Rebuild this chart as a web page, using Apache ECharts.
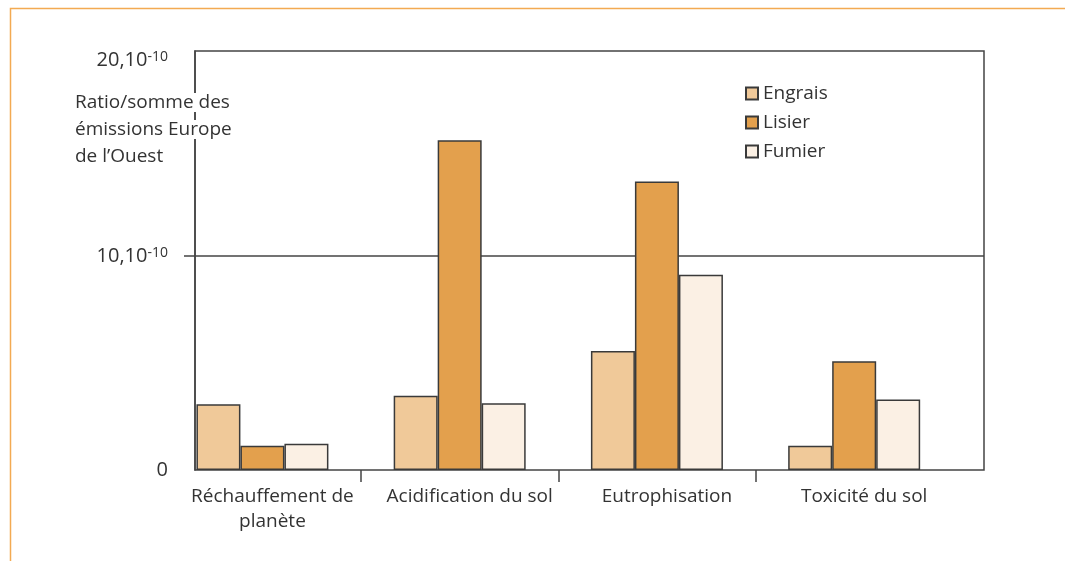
<!DOCTYPE html>
<html><head><meta charset="utf-8">
<script src="https://cdn.jsdelivr.net/npm/echarts@6/dist/echarts.min.js"></script>
<style>html,body{margin:0;padding:0;background:#fff}#c{width:1065px;height:561px}</style>
</head><body><div id="c"></div>
<script>
// ---- data ----
const categories = ['Réchauffement de\nplanète', 'Acidification du sol', 'Eutrophisation', 'Toxicité du sol'];
const seriesNames = ['Engrais', 'Lisier', 'Fumier'];
const engrais = [3.07, 3.47, 5.57, 1.14];
const lisier  = [1.14, 15.43, 13.50, 5.09];
const fumier  = [1.23, 3.12, 9.13, 3.30];
const yTickLabels = ['0', '10,10', '20,10'];
const yTickExponent = '-10';
const yAxisTitle = ['Ratio/somme des', 'émissions Europe', 'de l\u2019Ouest'];
const yMax = 19.6;

// ---- styles ----
const FONT = 'Open Sans';
const TXT = '#333333';
const LINE = '#444444';
const colors = ['#F0C999', '#E3A04D', '#FBF0E4'];

const chart = echarts.init(document.getElementById('c'), null, {renderer: 'canvas'});

const seriesData = [engrais, lisier, fumier];
const series = seriesNames.map((name, i) => ({
  name: name,
  type: 'bar',
  xAxisIndex: 1,
  yAxisIndex: 1,
  data: seriesData[i],
  barWidth: 44,
  barGap: 0,
  itemStyle: {color: colors[i], borderColor: '#3a3a3a', borderWidth: 1.5},
  emphasis: {disabled: true},
  animation: false
}));

const option = {
  animation: false,
  backgroundColor: '#ffffff',
  textStyle: {fontFamily: FONT},
  title: {
    text: yAxisTitle.map(t => '{a|' + t + '}').join('\n'),
    left: 75, top: 89, padding: 0,
    textStyle: {
      fontWeight: 'normal',
      rich: {a: {fontFamily: FONT, fontSize: 19, fontWeight: 'normal', lineHeight: 27, color: TXT, backgroundColor: '#ffffff'}}
    }
  },
  legend: {
    data: seriesNames,
    orient: 'vertical',
    left: 745, top: 84, padding: 0,
    itemWidth: 12, itemHeight: 12,
    itemGap: 10,
    icon: 'rect',
    selectedMode: false,
    textStyle: {fontFamily: FONT, fontSize: 19, lineHeight: 18, color: TXT}
  },
  grid: [
    {left: 195, right: 81, top: 51, bottom: 91, show: true, backgroundColor: 'transparent',
     borderColor: LINE, borderWidth: 1.5, containLabel: false, outerBoundsMode: 'none'},
    {left: 163.8, width: 986.25, top: 51, bottom: 91, containLabel: false, outerBoundsMode: 'none'}
  ],
  xAxis: [
    {gridIndex: 0, type: 'value', min: 0, max: 1, show: false},
    {gridIndex: 1, type: 'category', data: categories.concat(['']),
     boundaryGap: true,
     axisLine: {show: false},
     axisTick: {show: true, length: 12, interval: (idx) => idx >= 1 && idx <= categories.length - 1,
                lineStyle: {color: LINE, width: 1.5}},
     axisLabel: {interval: 0, margin: 14, fontFamily: FONT, fontSize: 19, lineHeight: 25, color: TXT,
                 padding: [0, 0, 0, 20]},
     splitLine: {show: false}}
  ],
  yAxis: [
    {gridIndex: 0, type: 'value', min: 0, max: yMax, interval: 10,
     axisLine: {show: true, lineStyle: {color: LINE, width: 1.5}},
     axisTick: {show: true, customValues: [10], length: 11, lineStyle: {color: LINE, width: 1.5}},
     splitLine: {show: true, lineStyle: {color: LINE, width: 1.5}},
     axisLabel: {
       margin: 27, color: TXT, fontFamily: FONT,
       formatter: function (v) {
         if (v <= 0) return '{m|' + yTickLabels[0] + '}';
         if (v <= 10) return '{m|' + yTickLabels[1] + '}{s|' + yTickExponent + '}';
         return '{mt|' + yTickLabels[2] + '}{st|' + yTickExponent + '}';
       },
       rich: {
         m:  {fontFamily: FONT, fontSize: 20, color: TXT, letterSpacing: 1},
         s:  {fontFamily: FONT, fontSize: 14, color: TXT, padding: [0, 0, 7, 0]},
         mt: {fontFamily: FONT, fontSize: 20, color: TXT, letterSpacing: 1, padding: [19, 0, 0, 0]},
         st: {fontFamily: FONT, fontSize: 14, color: TXT, padding: [12, 0, 0, 0]}
       }
     }},
    {gridIndex: 1, type: 'value', min: 0, max: yMax, show: false}
  ],
  graphic: [{
    type: 'polyline', silent: true, z: 100,
    shape: {points: [[10.5, 561], [10.5, 8.5], [1065, 8.5]]},
    style: {stroke: '#F3AA52', lineWidth: 1.5, fill: null}
  }],
  series: series
};
chart.setOption(option);
</script>
</body></html>
